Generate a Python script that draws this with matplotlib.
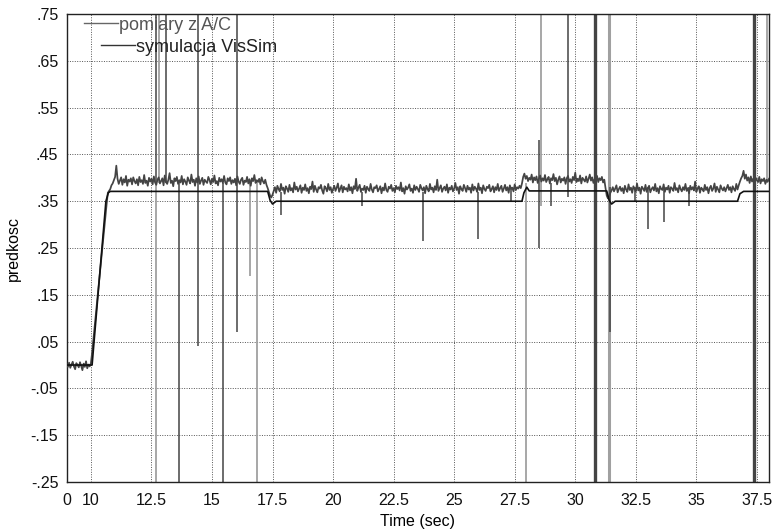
import numpy as np
import matplotlib
matplotlib.use("Agg")
import matplotlib.pyplot as plt

plt.rcParams['font.family'] = ['Liberation Sans', 'DejaVu Sans']

# ---------------- data ----------------
t_start = 9.0
dt = 0.05
# measured speed (thousandths), sampled every 0.05 s from t = 9.0
meas_milli = [
    # 9.00 - 10.00
    2, -4, 5, -6, 1, 7, -3, -9, 4, 0, -5, 6, -2, -11, 3, -4, 8, -7, 1, -3, 4,
    # ramp 10.05 - 10.70
    26, 53, 80, 106, 132, 159, 185, 212, 238, 264, 291, 317, 344, 368,
    372, 376, 384,
    # 10.90 - 17.20
    388, 395, 402, 426, 398, 387, 394, 401, 385, 397, 390, 404, 383, 396, 392, 399, 386, 401, 393, 388,
    397, 384, 402, 391, 395, 387, 406, 389, 394, 383, 400, 392, 398, 386, 403, 390, 385, 396, 401, 388,
    393, 399, 384, 405, 391, 387, 396, 410, 389, 394, 382, 399, 393, 402, 387, 395, 390, 404, 386, 397,
    392, 385, 401, 394, 388, 407, 391, 396, 383, 399, 390, 403, 387, 394, 400, 385, 396, 392, 389, 402,
    395, 386, 398, 391, 405, 388, 393, 384, 400, 392, 397, 389, 404, 390, 386, 399, 393, 401, 387, 395,
    390, 398, 384, 403, 392, 387, 396, 400, 385, 394, 391, 402, 388, 397, 383, 399, 393, 406, 389, 395,
    391, 398, 386, 401, 393, 388, 396,
    # 17.25 - 17.50
    385, 378, 370, 362, 358, 364,
    # 17.55 - 27.75
    372, 380, 368, 383, 376, 371, 387, 374, 379, 366, 382, 377, 370, 385, 373, 378, 369, 390, 375, 381,
    371, 377, 384, 368, 379, 374, 386, 372, 378, 367, 381, 376, 392, 370, 383, 375, 369, 380, 377, 385,
    373, 366, 382, 378, 371, 387, 374, 380, 368, 376, 383, 372, 379, 388, 370, 377, 384, 369, 381, 375,
    378, 371, 386, 373, 380, 367, 382, 376, 398, 372, 379, 385, 370, 377, 374, 383, 368, 381, 376, 372,
    387, 375, 369, 380, 378, 384, 371, 376, 382, 367, 379, 373, 388, 374, 370, 381, 377, 385, 372, 378,
    369, 383, 376, 380, 373, 390, 371, 378, 366, 382, 375, 379, 386, 372, 377, 368, 384, 374, 381, 376,
    370, 385, 378, 373, 380, 367, 383, 376, 371, 387, 375, 379, 369, 382, 374, 396, 372, 378, 384, 370,
    377, 381, 373, 386, 368, 379, 375, 383, 371, 377, 389, 374, 380, 366, 382, 376, 372, 385, 378, 370,
    383, 375, 379, 368, 386, 373, 381, 377, 370, 388, 374, 379, 367, 384, 376, 372, 381, 378, 385, 371,
    376, 382, 369, 380, 374, 387, 372, 378, 383, 370, 377, 385, 373, 380, 368, 384, 376, 379, 371, 386,
    374, 380, 377, 383, 378,
    # 27.80 - 31.20
    388, 402, 409, 398, 404, 393, 400, 396, 407, 390, 401, 395, 403, 389, 398, 405, 392, 399, 394, 406,
    391, 397, 402, 388, 399, 395, 408, 393, 400, 386, 396, 403, 390, 398, 394, 401, 387, 399, 404, 392,
    397, 389, 402, 395, 411, 391, 398, 393, 405, 388, 400, 396, 392, 403, 390, 398, 407, 394, 401, 389,
    397, 393, 404, 391, 399, 395, 402, 390, 396,
    # 31.25 - 36.70
    378, 362, 356, 360, 368, 373, 380, 371, 377, 384, 369, 376, 381, 372, 378, 367, 383, 375, 370, 386,
    374, 379, 368, 382, 376, 371, 388, 373, 379, 366, 381, 377, 372, 385, 370, 378, 383, 369, 376, 380,
    373, 387, 371, 378, 367, 382, 376, 374, 386, 370, 379, 375, 383, 368, 380, 377, 372, 389, 374, 378,
    369, 384, 376, 371, 380, 374, 387, 372, 378, 367, 383, 375, 380, 373, 392, 370, 377, 382, 368, 379,
    376, 371, 385, 374, 380, 367, 378, 383, 372, 377, 388, 370, 381, 375, 369, 384, 377, 373, 380, 371,
    378, 385, 374, 380, 369, 382, 376, 372, 387, 375,
    # 36.75 - 38.00
    384, 392, 399, 404, 415, 398, 407, 394, 401, 389, 403, 392, 398, 386, 400, 395, 391, 402, 388, 397,
    393, 399, 387, 396, 392, 398,
]

# simulation (VisSim) breakpoints
sim_t = [9.0, 10.05, 10.62, 10.72, 10.8, 17.3, 17.4, 17.5, 17.65, 27.8, 27.88, 28.0, 28.1,
         31.3, 31.4, 31.5, 31.65, 36.7, 36.8, 36.95, 38.0]
sim_v = [0.0, 0.0, 0.35, 0.368, 0.371, 0.371, 0.352, 0.344, 0.35, 0.35, 0.368, 0.38, 0.372,
         0.372, 0.352, 0.344, 0.35, 0.35, 0.366, 0.371, 0.371]

# measurement glitches (spikes): time, low end, high end
spike_dark_t = [12.69, 13.10, 13.65, 14.41, 15.44, 16.02, 17.85, 21.2, 23.7, 26.0, 27.35, 28.5,
                29.0, 29.7, 30.87, 31.42, 32.45, 33.0, 33.65, 34.7]
spike_dark_lo = [0.39, 0.39, -0.5, 0.04, -0.5, 0.07, 0.32, 0.34, 0.265, 0.27, 0.35, 0.25,
                 0.34, 0.36, 0.33, 0.07, 0.35, 0.29, 0.305, 0.34]
spike_dark_hi = [1.0, 1.0, 0.39, 1.0, 0.39, 1.0, 0.37, 0.37, 0.37, 0.37, 0.38, 0.48,
                 0.39, 1.0, 0.54, 0.38, 0.38, 0.38, 0.38, 0.38]
spike_light_t = [12.69, 12.82, 16.58, 16.85, 27.97, 28.6, 37.9]
spike_light_lo = [-0.5, 0.39, 0.19, -0.5, -0.5, 0.34, 0.39]
spike_light_hi = [0.39, 1.0, 0.39, 0.39, 0.39, 1.0, 1.0]
spike_thick_dark_t = [30.83, 37.37]
spike_thick_light_t = [31.4]
spike_full_lo = -0.5
spike_full_hi = 1.0

x_ticks = [9, 10, 12.5, 15, 17.5, 20, 22.5, 25, 27.5, 30, 32.5, 35, 37.5]
x_tick_labels = ["0", "10", "12.5", "15", "17.5", "20", "22.5", "25", "27.5", "30", "32.5", "35", "37.5"]
y_ticks = [0.75, 0.65, 0.55, 0.45, 0.35, 0.25, 0.15, 0.05, -0.05, -0.15, -0.25]
y_tick_labels = [".75", ".65", ".55", ".45", ".35", ".25", ".15", ".05", "-.05", "-.15", "-.25"]

label_meas = "pomiary z A/C"
label_sim = "symulacja VisSim"
x_label = "Time (sec)"
y_label = "predkosc"

# ---------------- plot ----------------
meas = np.array(meas_milli) / 1000.0
t = t_start + dt * np.arange(len(meas))

fig = plt.figure(figsize=(7.77, 5.29), dpi=100)
ax = fig.add_axes([0.0858, 0.0888, 0.9897 - 0.0858, 0.9735 - 0.0888])

c_meas = '#444444'
c_light = '#a0a0a0'
c_sim = '#111111'

ax.vlines(spike_light_t, spike_light_lo, spike_light_hi, color=c_light, lw=1.3, zorder=2)
ax.vlines(spike_thick_light_t, spike_full_lo, spike_full_hi, color=c_light, lw=2.2, zorder=2)
ax.vlines(spike_dark_t, spike_dark_lo, spike_dark_hi, color=c_meas, lw=1.1, zorder=2)
ax.vlines(spike_thick_dark_t, spike_full_lo, spike_full_hi, color=c_meas, lw=2.4, zorder=2)

h_meas, = ax.plot(t, meas, color=c_meas, lw=1.25, zorder=3)
h_sim, = ax.plot(sim_t, sim_v, color=c_sim, lw=1.2, zorder=4)

ax.set_xlim(9, 38)
ax.set_ylim(-0.25, 0.75)
ax.set_xticks(x_ticks)
ax.set_xticklabels(x_tick_labels)
ax.set_yticks(y_ticks)
ax.set_yticklabels(y_tick_labels)
ax.tick_params(length=0, labelsize=11.5, colors='#111111')
ax.tick_params(axis='x', pad=8)
ax.tick_params(axis='y', pad=6)
ax.grid(True, color='#555555', linestyle=(0, (1, 1.5)), linewidth=0.7)
ax.set_axisbelow(True)
for sp in ax.spines.values():
    sp.set_linewidth(1.0)
    sp.set_color('#222222')

ax.set_xlabel(x_label, fontsize=11.5, labelpad=4)
ax.set_ylabel(y_label, fontsize=11.5, labelpad=7)

leg_meas_handle = plt.Line2D([], [], color='#666666', lw=1.0)
leg_sim_handle = plt.Line2D([], [], color='#333333', lw=1.0)
leg1 = fig.legend([leg_meas_handle], [label_meas], loc='center left',
                  bbox_to_anchor=(84 / 777, 1 - 25 / 529), frameon=False,
                  handlelength=1.9, handletextpad=0.05, borderpad=0, borderaxespad=0,
                  fontsize=13, labelcolor='#555555')
leg2 = fig.legend([leg_sim_handle], [label_sim], loc='center left',
                  bbox_to_anchor=(101 / 777, 1 - 47 / 529), frameon=False,
                  handlelength=1.9, handletextpad=0.05, borderpad=0, borderaxespad=0,
                  fontsize=13, labelcolor='#222222')

fig.savefig("out.png", dpi=100)
